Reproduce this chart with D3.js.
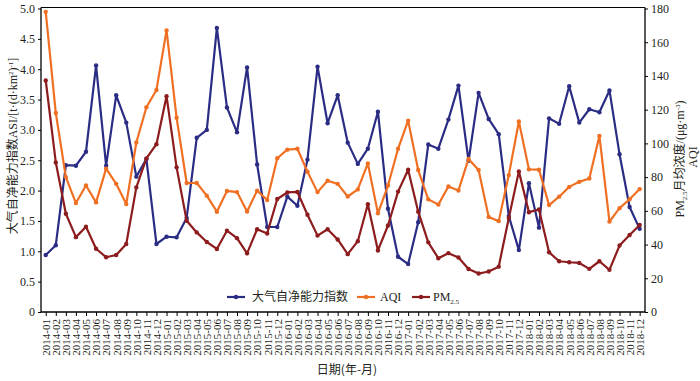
<!DOCTYPE html>
<html><head><meta charset="utf-8">
<script src="https://cdn.jsdelivr.net/npm/d3@7"></script>
<style>
body{margin:0;background:#fff;}
svg{display:block;}
text{font-family:"Liberation Serif","Noto Sans CJK SC",serif;fill:#231f20;}
</style></head>
<body>
<script>
const months = [
"2014-01","2014-02","2014-03","2014-04","2014-05","2014-06","2014-07","2014-08","2014-09","2014-10","2014-11","2014-12",
"2015-01","2015-02","2015-03","2015-04","2015-05","2015-06","2015-07","2015-08","2015-09","2015-10","2015-11","2015-12",
"2016-01","2016-02","2016-03","2016-04","2016-05","2016-06","2016-07","2016-08","2016-09","2016-10","2016-11","2016-12",
"2017-01","2017-02","2017-03","2017-04","2017-05","2017-06","2017-07","2017-08","2017-09","2017-10","2017-11","2017-12",
"2018-01","2018-02","2018-03","2018-04","2018-05","2018-06","2018-07","2018-08","2018-09","2018-10","2018-11","2018-12"];
const asi = [0.94,1.10,2.42,2.41,2.64,4.06,2.41,3.57,3.12,2.23,
2.52,1.12,1.24,1.23,1.55,2.87,3.00,4.68,3.37,2.96,
4.03,2.43,1.40,1.40,1.90,1.75,2.51,4.04,3.11,3.57,
2.79,2.44,2.69,3.30,1.70,0.91,0.79,1.48,2.76,2.69,
3.17,3.73,2.49,3.61,3.18,2.93,1.58,1.02,2.12,1.39,
3.19,3.10,3.72,3.12,3.34,3.29,3.65,2.60,1.73,1.37];
const aqi = [178,118,80,64.6,75,65,85,76,64,100.5,
121.4,131.7,167,115.2,76.5,76.5,69,59.5,71.8,71.1,
59.6,72,66.4,91.2,96.3,96.8,83.2,71.1,77.8,76,
68.5,72.7,88.1,58.5,75,96.8,113.5,84.2,66.8,63.7,
74.4,72.1,90.8,84.2,56.4,53.9,81.2,113,84.6,84.4,
63.4,68.4,74.2,77.2,79.2,104.4,53.6,61.6,66.9,72.9];
const pm25 = [137.3,88.7,58.3,44.4,50.6,37.5,32.5,33.8,40.3,73.9,
91.1,99.5,128,85.8,54.1,47.2,41.5,37.4,48.2,43.8,
34.8,49.1,46.6,67,70.9,71.2,57.7,45.3,49.1,43,
34.3,42,63.9,36.5,51.3,71.4,84.4,59.5,41.3,31.9,
34.9,32.3,25.5,22.8,24,26.9,55.8,83.4,59.2,60.8,
35.4,30.1,29.5,29.1,25.6,30.1,25,39.4,45.7,51.6];
const leftTicks = [0,0.5,1.0,1.5,2.0,2.5,3.0,3.5,4.0,4.5,5.0];
const rightTicks = [0,20,40,60,80,100,120,140,160,180];
const seriesNames = ["大气自净能力指数","AQI","PM"];
const colors = ["#2b2d84","#f07023","#8c1c1e"];

const W=700,H=381;
const L=41,R=645,T=7.5,B=312;
const svg=d3.select("body").append("svg").attr("width",W).attr("height",H);

const x=d3.scalePoint().domain(months).range([L-0.3,R-0.3]).padding(0.5);
const yL=d3.scaleLinear().domain([0,5]).range([B,T+1]);
const yR=d3.scaleLinear().domain([0,180]).range([B,T+1]);

// frame top
svg.append("line").attr("x1",L).attr("x2",R).attr("y1",T).attr("y2",T).attr("stroke","#000").attr("stroke-width",1.2);

const axL=svg.append("g").attr("transform",`translate(${L},0)`)
  .call(d3.axisLeft(yL).tickValues(leftTicks).tickFormat(d=>d===0?"0":d3.format(".1f")(d)).tickSize(3).tickPadding(3));
const axR=svg.append("g").attr("transform",`translate(${R},0)`)
  .call(d3.axisRight(yR).tickValues(rightTicks).tickSize(3).tickPadding(3));
const axB=svg.append("g").attr("transform",`translate(0,${B})`)
  .call(d3.axisBottom(x).tickSize(4).tickPadding(2));
[axL,axR,axB].forEach(a=>{
  a.selectAll("path.domain").attr("stroke","#000").attr("stroke-width",1.3);
  a.selectAll(".tick line").attr("stroke","#000");
  a.selectAll("text").style("font-family","Liberation Serif").style("font-size","12px").attr("fill","#231f20");
});
axB.selectAll(".tick text").style("font-size","11px")
  .attr("transform","rotate(-90)").attr("text-anchor","end")
  .attr("x",-7).attr("y",0).attr("dy","0.35em");
// adjust path (remove outer ticks)
axL.select("path.domain").attr("d",`M0,${T}V${B}`);
axR.select("path.domain").attr("d",`M0,${T}V${B}`);
axB.select("path.domain").attr("d",`M${L},0H${R}`);

const sets=[{v:asi,y:yL},{v:aqi,y:yR},{v:pm25,y:yR}];
sets.forEach((s,k)=>{
  const line=d3.line().x((d,i)=>x(months[i])).y(d=>s.y(d));
  svg.append("path").datum(s.v).attr("d",line).attr("fill","none")
    .attr("stroke",colors[k]).attr("stroke-width",2.2).attr("stroke-linejoin","round");
  svg.append("g").selectAll("circle").data(s.v).join("circle")
    .attr("cx",(d,i)=>x(months[i])).attr("cy",d=>s.y(d)).attr("r",2.2).attr("fill",colors[k]);
});

// legend
const lg=svg.append("g");
const lx=[227,357,412], tx=[252,380,433], ly=297;
seriesNames.forEach((n,k)=>{
  lg.append("line").attr("x1",lx[k]).attr("x2",lx[k]+18).attr("y1",ly).attr("y2",ly).attr("stroke",colors[k]).attr("stroke-width",2.2);
  lg.append("circle").attr("cx",lx[k]+9).attr("cy",ly).attr("r",2.2).attr("fill",colors[k]);
  const t=lg.append("text").attr("x",tx[k]).attr("y",ly).attr("dy","0.35em").style("font-size","12px");
  if(k===0){t.style("font-family","Noto Sans CJK SC").text(n);}
  else if(k===1){t.text(n);}
  else {t.text("PM"); t.append("tspan").attr("dy",3).style("font-size","7px").text("2.5");}
});

// x title
svg.append("text").attr("x",347).attr("y",370).attr("dy","0.35em").attr("text-anchor","middle")
  .style("font-size","12px").style("font-family","Noto Sans CJK SC").text("日期(年-月)");

// left title
const lt=svg.append("text").attr("transform","translate(13,146) rotate(-90)").attr("text-anchor","middle").attr("dy","0.35em").style("font-size","12px");
lt.append("tspan").style("font-family","Noto Sans CJK SC").text("大气自净能力指数");
lt.append("tspan").text("ASI/[t·(d·km");
lt.append("tspan").attr("dy",-4).style("font-size","7px").text("2");
lt.append("tspan").attr("dy",4).text(")");
lt.append("tspan").attr("dy",-4).style("font-size","7px").text("-1");
lt.append("tspan").attr("dy",4).text("]");

// right title
const rt=svg.append("text").attr("transform","translate(680,159) rotate(-90)").attr("text-anchor","middle").attr("dy","0.35em").style("font-size","12px");
rt.append("tspan").text("PM");
rt.append("tspan").attr("dy",3).style("font-size","7px").text("2.5");
rt.append("tspan").attr("dy",-3).style("font-family","Noto Sans CJK SC").text("月均浓度");
rt.append("tspan").text("/(μg·m");
rt.append("tspan").attr("dy",-4).style("font-size","7px").text("-3");
rt.append("tspan").attr("dy",4).text(")");
svg.append("text").attr("transform","translate(693,157) rotate(-90)").attr("text-anchor","middle").attr("dy","0.35em").style("font-size","12px").text("AQI");
</script>
</body></html>
